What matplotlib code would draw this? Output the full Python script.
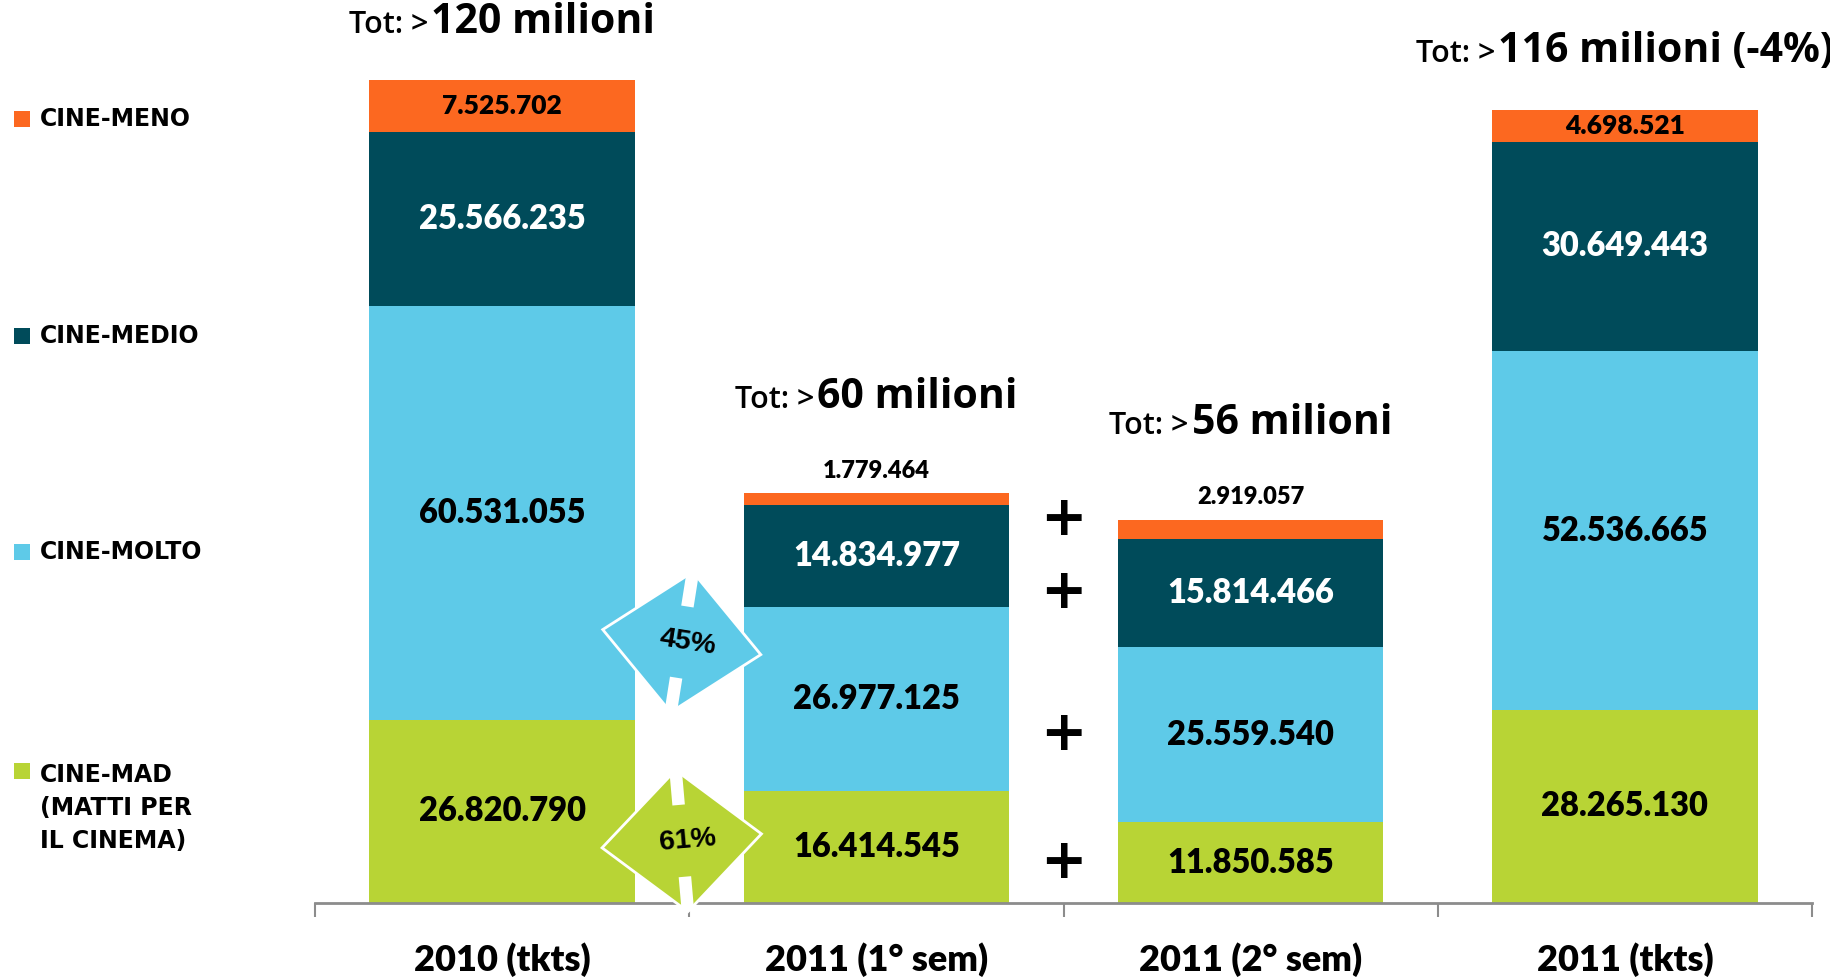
import numpy as np
import matplotlib
matplotlib.use('Agg')
import matplotlib.pyplot as plt
from matplotlib.patches import Polygon, Rectangle
from matplotlib.offsetbox import TextArea, HPacker, AnnotationBbox
from matplotlib.transforms import ScaledTranslation

categories = ['2010 (tkts)', '2011 (1° sem)', '2011 (2° sem)', '2011 (tkts)']
segment_names = ['CINE-MAD\n(MATTI PER\nIL CINEMA)', 'CINE-MOLTO', 'CINE-MEDIO', 'CINE-MENO']
cine_mad = [26820790, 16414545, 11850585, 28265130]
cine_molto = [60531055, 26977125, 25559540, 52536665]
cine_medio = [25566235, 14834977, 15814466, 30649443]
cine_meno = [7525702, 1779464, 2919057, 4698521]

colors = ['#b8d435', '#5ecae8', '#004b5a', '#fc6820']
label_colors = ['black', 'black', 'white', 'black']

series = [cine_mad, cine_molto, cine_medio, cine_meno]
FONT = ['Lato', 'DejaVu Sans']
TOTFONT = ['Open Sans', 'DejaVu Sans']


def fmt(v):
    return f'{v:,}'.replace(',', '.')


W, H = 1831, 977
fig = plt.figure(figsize=(W / 100, H / 100), dpi=100)
ax = fig.add_axes([315 / W, 1 - 903 / H, (1812 - 315) / W, 132 * 6.83 / H])
ax.set_xlim(-0.5, 3.5)
ax.set_ylim(0, 132)

x = np.arange(len(categories))
bottom = np.zeros(len(categories))
for vals, col in zip(series, colors):
    v = np.array(vals) / 1e6
    ax.bar(x, v, 0.71, bottom=bottom, color=col, zorder=2)
    bottom = bottom + v
totals = bottom

# labels inside segments
bottom = np.zeros(len(categories))
for k, (vals, lc) in enumerate(zip(series, label_colors)):
    v = np.array(vals) / 1e6
    for i in range(len(categories)):
        if k == 3:
            if v[i] > 4:
                ax.text(x[i], bottom[i] + v[i] / 2, fmt(vals[i]), ha='center', va='center',
                        fontsize=19, fontweight='heavy', color=lc, family=FONT, zorder=3)
            else:
                ax.text(x[i], totals[i] + 3.3, fmt(vals[i]), ha='center', va='center',
                        fontsize=17, fontweight='heavy', color='black', family=FONT, zorder=3)
        else:
            ax.text(x[i], bottom[i] + v[i] / 2, fmt(vals[i]), ha='center', va='center',
                    fontsize=23.5, fontweight='heavy', color=lc, family=FONT, zorder=3)
    bottom = bottom + v

# totals
change = round(100 * (totals[3] - totals[0]) / totals[0])
for i in range(len(categories)):
    main = f'{int(totals[i])} milioni'
    if i == 3:
        main += f' ({change}%)'
    small = cine_meno[i] < 4e6
    t1 = TextArea('Tot: >', textprops=dict(fontsize=22, fontweight='semibold', family=TOTFONT))
    t2 = TextArea(main, textprops=dict(fontsize=29.5, fontweight='bold', family=TOTFONT))
    box = HPacker(children=[t1, t2], align='baseline', pad=0, sep=2)
    ab = AnnotationBbox(box, (x[i], totals[i] + (14 if small else 8.5)), xycoords='data',
                        box_alignment=(0.5, 0.5), frameon=False, annotation_clip=False)
    ax.add_artist(ab)

# plus signs between the two semesters
bottom = np.zeros(len(categories))
for k, vals in enumerate(series):
    v = np.array(vals) / 1e6
    yy = bottom[2] + v[2] / 2 if k < 3 else totals[2]
    ax.text(1.5, yy, '+', ha='center', va='center', fontsize=40,
            fontweight='bold', family=['DejaVu Sans'], zorder=3)
    bottom = bottom + v


# share diamonds (1° sem 2011 vs 2010)
def diamond(xc, yc, rot, text, color):
    trans = fig.dpi_scale_trans + ScaledTranslation(xc, yc, ax.transData)
    a = np.deg2rad(rot)
    R = np.array([[np.cos(a), -np.sin(a)], [np.sin(a), np.cos(a)]])
    verts = np.array([[0.80, 0], [0, 0.71], [-0.80, 0], [0, -0.71]]) @ R.T
    ax.add_patch(Polygon(verts, closed=True, facecolor=color, edgecolor='white', lw=2,
                         transform=trans, zorder=5, clip_on=False))
    for s in (1, -1):
        seg = np.array([[0, 0.71 * s], [0, 0.36 * s]]) @ R.T
        ax.plot(seg[:, 0], seg[:, 1], color='white', lw=9, solid_capstyle='butt',
                transform=trans, zorder=6, clip_on=False)
    ax.text(0.06, 0, text, transform=trans, ha='center', va='center', rotation=rot,
            fontsize=20.5, fontweight='bold', family=['Liberation Sans', 'DejaVu Sans'], zorder=7)


share_molto = round(100 * cine_molto[1] / cine_molto[0])
share_mad = round(100 * cine_mad[1] / cine_mad[0])
diamond(0.48, 38.2, -9, f'{share_molto}%', colors[1])
diamond(0.48, 9.1, 5, f'{share_mad}%', colors[0])

# axes styling
for s in ['top', 'right', 'left']:
    ax.spines[s].set_visible(False)
ax.spines['bottom'].set_color('#8c8c8c')
ax.spines['bottom'].set_linewidth(2)
ax.set_yticks([])
ax.set_xticks(x)
ax.set_xticklabels(categories, fontsize=26, fontweight='heavy', family=FONT)
ax.tick_params(axis='x', which='major', length=0, pad=28)
ax.set_xticks(np.arange(-0.5, 4, 1), minor=True)
ax.tick_params(axis='x', which='minor', length=10, width=1.5, color='#8c8c8c', direction='out')

# legend on the left
leg_y = [808, 552, 336, 119]
for name, col, yy in zip(segment_names, colors, leg_y):
    first_y = yy if '\n' not in name else yy - 37
    fig.patches.append(Rectangle((14 / W, 1 - (first_y + 8) / H), 16 / W, 16 / H,
                                 transform=fig.transFigure, facecolor=col, edgecolor='none'))
    fig.text(40 / W, 1 - yy / H, name, ha='left', va='center', fontsize=17, fontweight='bold',
             family=['DejaVu Sans'], linespacing=1.45)

fig.savefig('out.png', dpi=100)
